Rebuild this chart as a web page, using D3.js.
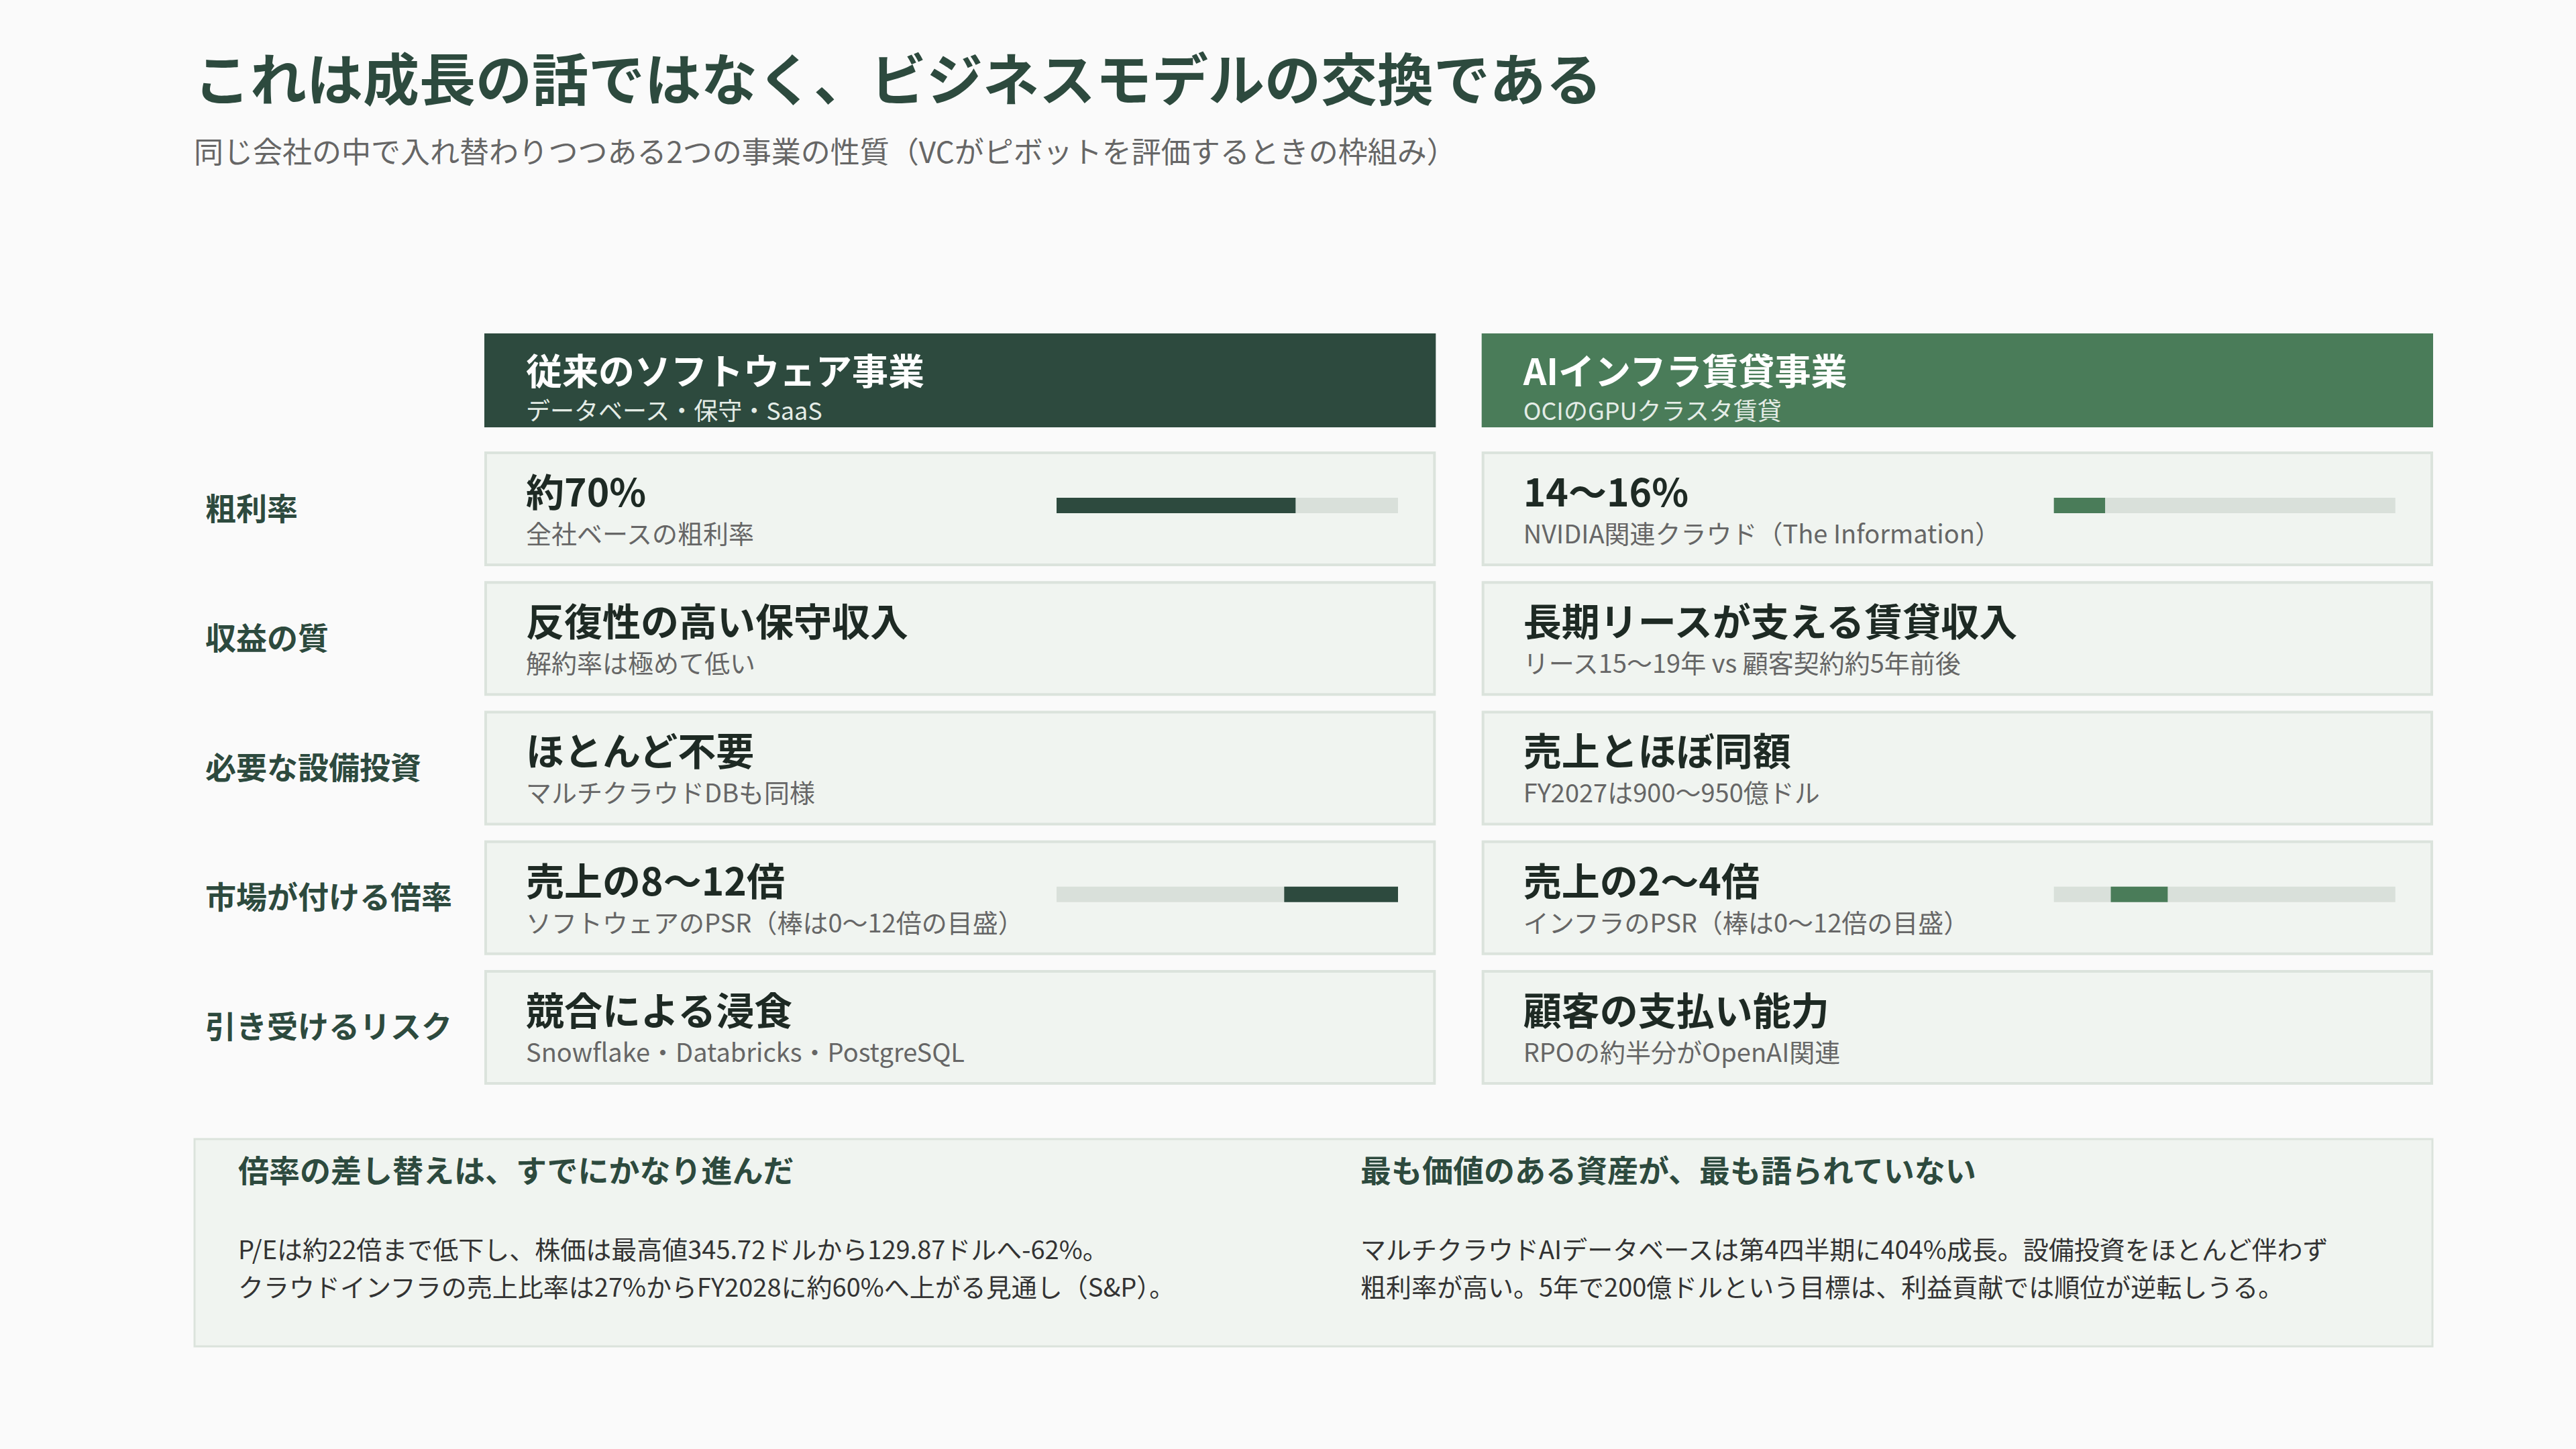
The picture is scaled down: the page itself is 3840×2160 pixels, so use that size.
<!DOCTYPE html>
<html><head><meta charset="utf-8">
<script src="https://cdn.jsdelivr.net/npm/d3@7"></script>
<style>body{margin:0;background:#fafafa;}svg{display:block;}</style>
</head><body>
<svg id="c" width="3840" height="2160"></svg>
<script>
const title = "これは成長の話ではなく、ビジネスモデルの交換である";
const subtitle = "同じ会社の中で入れ替わりつつある2つの事業の性質（VCがピボットを評価するときの枠組み）";
const columns = [
  {name:"従来のソフトウェア事業", sub:"データベース・保守・SaaS", color:"#2d4a3e"},
  {name:"AIインフラ賃貸事業", sub:"OCIのGPUクラスタ賃貸", color:"#4a7c59"}
];
const rowLabels = ["粗利率","収益の質","必要な設備投資","市場が付ける倍率","引き受けるリスク"];
const mainTexts = [
  ["約70%","14〜16%"],
  ["反復性の高い保守収入","長期リースが支える賃貸収入"],
  ["ほとんど不要","売上とほぼ同額"],
  ["売上の8〜12倍","売上の2〜4倍"],
  ["競合による浸食","顧客の支払い能力"]
];
const subTexts = [
  ["全社ベースの粗利率","NVIDIA関連クラウド（The Information）"],
  ["解約率は極めて低い","リース15〜19年 vs 顧客契約約5年前後"],
  ["マルチクラウドDBも同様","FY2027は900〜950億ドル"],
  ["ソフトウェアのPSR（棒は0〜12倍の目盛）","インフラのPSR（棒は0〜12倍の目盛）"],
  ["Snowflake・Databricks・PostgreSQL","RPOの約半分がOpenAI関連"]
];
// bars: [row, col, from, to, max]
const bars = [
  {row:0,col:0,from:0,to:70,max:100},
  {row:0,col:1,from:0,to:15,max:100},
  {row:3,col:0,from:8,to:12,max:12},
  {row:3,col:1,from:2,to:4,max:12}
];
const notes = [
  {head:"倍率の差し替えは、すでにかなり進んだ", lines:["P/Eは約22倍まで低下し、株価は最高値345.72ドルから129.87ドルへ-62%。","クラウドインフラの売上比率は27%からFY2028に約60%へ上がる見通し（S&P）。"]},
  {head:"最も価値のある資産が、最も語られていない", lines:["マルチクラウドAIデータベースは第4四半期に404%成長。設備投資をほとんど伴わず","粗利率が高い。5年で200億ドルという目標は、利益貢献では順位が逆転しうる。"]}
];

const F = "'Noto Sans CJK JP','Noto Sans',sans-serif";
const svg = d3.select("#c");
svg.append("rect").attr("width",3840).attr("height",2160).attr("fill","#fafafa");
svg.append("text").text(title).attr("x",289).attr("y",150).attr("font-family",F).attr("font-weight",700).attr("font-size",84).attr("fill","#2d4a3e");
svg.append("text").text(subtitle).attr("x",289).attr("y",243).attr("font-family",F).attr("font-size",44).attr("fill","#666");

const colX = d3.scaleBand().domain([0,1]).range([722,3627]).paddingInner(0.046);
const rowY = d3.scaleBand().domain(d3.range(rowLabels.length)).range([673,1617]).paddingInner(0.115);
const cw = colX.bandwidth(), rh = rowY.bandwidth();

columns.forEach((c,i)=>{
  const x = colX(i);
  svg.append("rect").attr("x",x).attr("y",497).attr("width",cw).attr("height",140).attr("fill",c.color);
  svg.append("text").text(c.name).attr("x",x+62).attr("y",574).attr("font-family",F).attr("font-weight",700).attr("font-size",54).attr("fill","#fff");
  svg.append("text").text(c.sub).attr("x",x+62).attr("y",626).attr("font-family",F).attr("font-size",36).attr("fill","#e4ece6");
});

rowLabels.forEach((l,r)=>{
  const y = rowY(r);
  svg.append("text").text(l).attr("x",306).attr("y",y+rh/2+16).attr("font-family",F).attr("font-weight",700).attr("font-size",46).attr("fill","#2d4a3e");
  [0,1].forEach(ci=>{
    const x = colX(ci);
    svg.append("rect").attr("x",x+2).attr("y",y+2).attr("width",cw-4).attr("height",rh-4).attr("fill","#f0f4f0").attr("stroke","#dbe3dc").attr("stroke-width",4);
    svg.append("text").text(mainTexts[r][ci]).attr("x",x+62).attr("y",y+82).attr("font-family",F).attr("font-weight",700).attr("font-size",57).attr("fill","#1e2a24");
    svg.append("text").text(subTexts[r][ci]).attr("x",x+62).attr("y",y+137).attr("font-family",F).attr("font-size",38).attr("fill","#666");
  });
});

bars.forEach(b=>{
  const x0 = colX(b.col)+ (1575-722);
  const s = d3.scaleLinear().domain([0,b.max]).range([x0, x0+509]);
  const y = rowY(b.row)+69;
  svg.append("rect").attr("x",s(0)).attr("y",y).attr("width",s(b.max)-s(0)).attr("height",23).attr("fill","#d9e0da");
  svg.append("rect").attr("x",s(b.from)).attr("y",y).attr("width",s(b.to)-s(b.from)).attr("height",23).attr("fill",columns[b.col].color);
});

svg.append("rect").attr("x",290).attr("y",1698).attr("width",3336).attr("height",309).attr("fill","#f0f4f0").attr("stroke","#dbe3dc").attr("stroke-width",3);
const nx = [355,2028];
notes.forEach((n,i)=>{
  svg.append("text").text(n.head).attr("x",nx[i]).attr("y",1762).attr("font-family",F).attr("font-weight",700).attr("font-size",46).attr("fill","#2d4a3e");
  n.lines.forEach((ln,j)=>{
    svg.append("text").text(ln).attr("x",nx[i]).attr("y",1877+j*56).attr("font-family",F).attr("font-size",38).attr("fill","#333");
  });
});
</script>
</body></html>
